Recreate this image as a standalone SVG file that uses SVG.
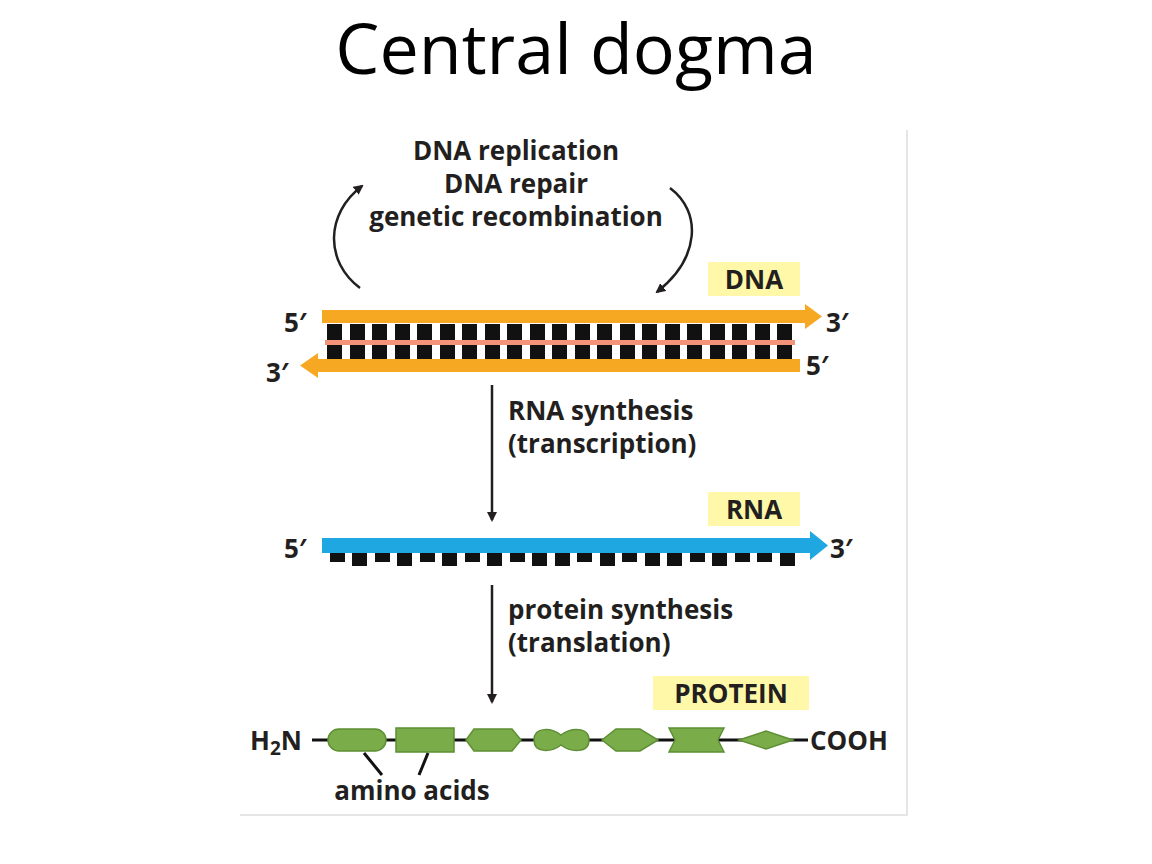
<svg xmlns="http://www.w3.org/2000/svg" width="1152" height="864" viewBox="0 0 1152 864">
<style>
.t{font-family:"Open Sans","Liberation Sans",sans-serif;font-weight:bold;font-size:26px;fill:#231f20}
.title{font-family:"Open Sans","Liberation Sans",sans-serif;font-size:70px;fill:#000}
.aa{fill:#7aad4a;stroke:#5e8f35;stroke-width:1.5}
</style>
<defs>
<marker id="ah" markerWidth="10" markerHeight="10" refX="8" refY="5" orient="auto" markerUnits="userSpaceOnUse"><path d="M0,0 L10,5 L0,10 Z" fill="#231f20"/></marker>
</defs>
<rect width="1152" height="864" fill="#fff"/>
<text class="title" x="576" y="74" text-anchor="middle">Central dogma</text>
<path d="M907,130 V815 H240" fill="none" stroke="#ddd" stroke-width="1.5"/>
<g id="labels">
<text class="t" x="516" y="160" text-anchor="middle">DNA replication</text>
<text class="t" x="516" y="193" text-anchor="middle">DNA repair</text>
<text class="t" x="516" y="226" text-anchor="middle">genetic recombination</text>
</g>
<g id="dna">
<rect x="708" y="262" width="92" height="34" fill="#fff8a8"/>
<text class="t" x="754" y="289" text-anchor="middle">DNA</text>
<text class="t" x="284" y="332">5′</text>
<text class="t" x="826" y="332">3′</text>
<text class="t" x="266" y="382">3′</text>
<text class="t" x="806" y="375">5′</text>
<path d="M322,310 H805 V304 L822,316.5 L805,329 V323 H322 Z" fill="#f7a823"/>
<path d="M800,359 H318 V353 L300,365.5 L318,378 V372 H800 Z" fill="#f7a823"/>
</g>
<g id="rna">
<rect x="708" y="492" width="92" height="34" fill="#fff8a8"/>
<text class="t" x="754" y="519" text-anchor="middle">RNA</text>
<text class="t" x="284" y="558">5′</text>
<text class="t" x="830" y="558">3′</text>
<path d="M322,538 H810 V531 L828,545.5 L810,560 V553 H322 Z" fill="#1ea7e1"/>
</g>
<g id="protein">
<rect x="653" y="676" width="156" height="34" fill="#fff8a8"/>
<text class="t" x="731" y="703" text-anchor="middle">PROTEIN</text>
<text class="t" x="250" y="750">H<tspan font-size="19" dy="5">2</tspan><tspan dy="-5">N</tspan></text>
<text class="t" x="810" y="750">COOH</text>
<text class="t" x="412" y="800" text-anchor="middle">amino acids</text>
<line x1="312" y1="740" x2="808" y2="740" stroke="#111" stroke-width="3"/>
<rect class="aa" x="328" y="729" width="58" height="22" rx="11"/>
<rect class="aa" x="396" y="728" width="58" height="24"/>
<path class="aa" d="M474,729 H512 L521,740 L512,751 H474 L466,740 Z"/>
<path class="aa" d="M534,740 C534,726 552,728 561,735 C570,728 589,726 589,740 C589,754 570,752 561,745 C552,752 534,754 534,740 Z"/>
<path class="aa" d="M616,729 H640 L658,740 L640,751 H616 L602,740 Z"/>
<path class="aa" d="M669,728 H724 L718,740 L724,752 H669 L675,740 Z"/>
<path class="aa" d="M739,740 L766,731 L793,740 L766,749 Z"/>
<line x1="364" y1="753" x2="382" y2="775" stroke="#111" stroke-width="3"/>
<line x1="428" y1="753" x2="419" y2="775" stroke="#111" stroke-width="3"/>
</g>
<g id="connectors" fill="none" stroke="#231f20" stroke-width="2.5">
<path d="M360,288 C325,262 325,214 362,186" marker-end="url(#ah)"/>
<path d="M670,188 C702,212 700,258 657,292" marker-end="url(#ah)"/>
<line x1="492" y1="385" x2="492" y2="520" marker-end="url(#ah)"/>
<line x1="492" y1="585" x2="492" y2="702" marker-end="url(#ah)"/>
</g>
<text class="t" x="508" y="420">RNA synthesis</text>
<text class="t" x="508" y="453">(transcription)</text>
<text class="t" x="508" y="619">protein synthesis</text>
<text class="t" x="508" y="652">(translation)</text>
<g id="pairs">
<g fill="#111">
<rect x="327" y="324" width="15" height="35"/><rect x="350" y="324" width="15" height="35"/><rect x="372" y="324" width="15" height="35"/><rect x="395" y="324" width="15" height="35"/><rect x="417" y="324" width="15" height="35"/><rect x="440" y="324" width="15" height="35"/><rect x="462" y="324" width="15" height="35"/><rect x="485" y="324" width="15" height="35"/><rect x="507" y="324" width="15" height="35"/><rect x="530" y="324" width="15" height="35"/><rect x="552" y="324" width="15" height="35"/><rect x="575" y="324" width="15" height="35"/><rect x="597" y="324" width="15" height="35"/><rect x="620" y="324" width="15" height="35"/><rect x="642" y="324" width="15" height="35"/><rect x="665" y="324" width="15" height="35"/><rect x="687" y="324" width="15" height="35"/><rect x="710" y="324" width="15" height="35"/><rect x="732" y="324" width="15" height="35"/><rect x="755" y="324" width="15" height="35"/><rect x="777" y="324" width="15" height="35"/>
</g>
<rect x="325" y="340" width="470" height="5" fill="#f4937a"/>
<g fill="#111">
<rect x="330" y="553" width="15" height="9"/><rect x="352" y="553" width="15" height="13"/><rect x="375" y="553" width="15" height="9"/><rect x="397" y="553" width="15" height="13"/><rect x="420" y="553" width="15" height="9"/><rect x="442" y="553" width="15" height="13"/><rect x="465" y="553" width="15" height="9"/><rect x="487" y="553" width="15" height="13"/><rect x="510" y="553" width="15" height="9"/><rect x="532" y="553" width="15" height="13"/><rect x="555" y="553" width="15" height="13"/><rect x="577" y="553" width="15" height="9"/><rect x="600" y="553" width="15" height="13"/><rect x="622" y="553" width="15" height="9"/><rect x="645" y="553" width="15" height="13"/><rect x="667" y="553" width="15" height="13"/><rect x="690" y="553" width="15" height="9"/><rect x="712" y="553" width="15" height="13"/><rect x="735" y="553" width="15" height="9"/><rect x="757" y="553" width="15" height="9"/><rect x="780" y="553" width="15" height="13"/>
</g>
</g>
</svg>
